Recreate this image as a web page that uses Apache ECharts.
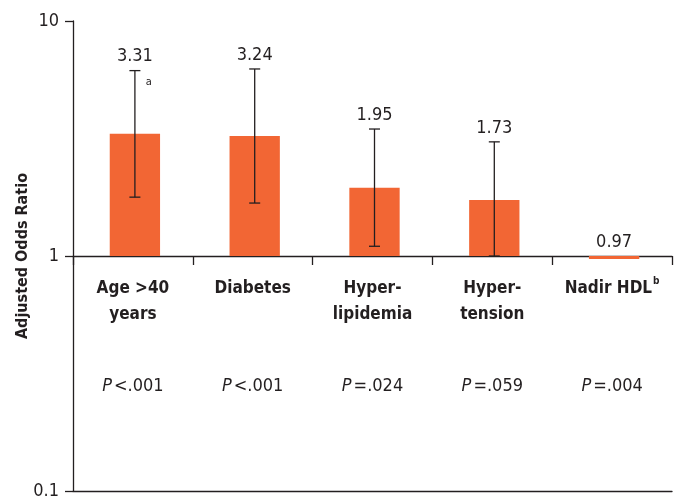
<!DOCTYPE html>
<html>
<head>
<meta charset="utf-8">
<script src="https://cdn.jsdelivr.net/npm/echarts@6/dist/echarts.min.js"></script>
<style>
  html, body { margin: 0; padding: 0; background: #fff; }
  #chart { width: 680px; height: 500px; }
</style>
</head>
<body>
<div id="chart"></div>
<script>
// Adjusted odds ratios with 95% confidence intervals
const categories = ['Age >40\nyears', 'Diabetes', 'Hyper-\nlipidemia', 'Hyper-\ntension', 'Nadir HDL{sup|b}'];
const oddsRatios = [3.31, 3.24, 1.95, 1.73, 0.97];
const ciLower = [1.78, 1.68, 1.10, 1.00, null];
const ciUpper = [6.15, 6.25, 3.47, 3.06, null];
const pValues = ['<.001', '<.001', '=.024', '=.059', '=.004'];
const notes = ['a', '', '', '', ''];
const yTicks = ['0.1', '1', '10'];

const FONT = '"Liberation Sans Narrow", "DejaVu Sans Condensed", "Liberation Sans", sans-serif';
const INK = '#231f20';
const BAR = '#f26634';

const chart = echarts.init(document.getElementById('chart'), null, { renderer: 'canvas' });

function renderItem(params, api) {
  const i = params.dataIndex;
  const value = api.value(1);
  const base = api.coord([api.value(0), 1]);
  const top = api.coord([api.value(0), value]);
  const bandW = api.size([1, 0])[0];
  const barW = bandW * 0.42;
  const cx = base[0] + 2;
  const children = [{
    type: 'rect',
    shape: { x: cx - barW / 2, y: Math.min(base[1], top[1]), width: barW, height: Math.abs(base[1] - top[1]) },
    style: { fill: BAR }
  }];
  let labelTop = base[1];
  if (ciLower[i] != null && ciUpper[i] != null) {
    const lo = api.coord([api.value(0), ciLower[i]]);
    const hi = api.coord([api.value(0), ciUpper[i]]);
    const cap = 5.5;
    const ls = { stroke: INK, lineWidth: 1.3 };
    children.push(
      { type: 'line', shape: { x1: cx, y1: lo[1], x2: cx, y2: hi[1] }, style: ls },
      { type: 'line', shape: { x1: cx - cap, y1: hi[1], x2: cx + cap, y2: hi[1] }, style: ls },
      { type: 'line', shape: { x1: cx - cap, y1: lo[1], x2: cx + cap, y2: lo[1] }, style: ls }
    );
    labelTop = Math.min(labelTop, hi[1]);
    if (notes[i]) {
      children.push({
        type: 'text',
        style: { text: notes[i], x: cx + 14, y: hi[1] + 12, align: 'center', verticalAlign: 'middle',
                 font: '11px ' + FONT, fill: INK }
      });
    }
  }
  children.push({
    type: 'text',
    style: { text: String(value), x: cx, y: labelTop - 5, align: 'center', verticalAlign: 'bottom',
             font: '18px ' + FONT, fill: INK }
  });
  children.push({
    type: 'text',
    style: {
      text: '{it|P}' + pValues[i], x: base[0], y: base[1] + 130, align: 'center', verticalAlign: 'middle',
      font: '18px ' + FONT, fill: INK,
      rich: { it: { fontStyle: 'italic', font: 'italic 18px ' + FONT, fill: INK, padding: [0, 2, 0, 0] } }
    }
  });
  return { type: 'group', children };
}

chart.setOption({
  animation: false,
  grid: { left: 73, right: 8, top: 21, bottom: 9, containLabel: false },
  xAxis: [
    {
      type: 'category', data: categories,
      axisLine: { show: true, lineStyle: { color: INK, width: 1.3 } },
      axisTick: { show: false }, axisLabel: { show: false }, splitLine: { show: false }
    },
    {
      type: 'category', data: categories, position: 'bottom', offset: -235,
      axisLine: { show: true, lineStyle: { color: INK, width: 1.3 } },
      axisTick: { show: true, length: 9, inside: false, lineStyle: { color: INK, width: 1.3 } },
      axisLabel: {
        show: true, interval: 0, margin: 20, color: INK, fontFamily: FONT, fontSize: 17,
        fontWeight: 'bold', lineHeight: 26,
        rich: { sup: { fontSize: 10, fontWeight: 'bold', fontFamily: FONT, color: INK,
                       verticalAlign: 'top', lineHeight: 26, padding: [0, 0, 10, 1] } }
      },
      splitLine: { show: false }
    }
  ],
  yAxis: {
    type: 'log', logBase: 10, min: 0.1, max: 10,
    name: 'Adjusted Odds Ratio', nameLocation: 'middle', nameRotate: 90, nameGap: 42,
    nameMoveOverlap: false,
    nameTextStyle: { color: INK, fontFamily: FONT, fontSize: 16, fontWeight: 'bold' },
    axisLine: { show: true, lineStyle: { color: INK, width: 1.3 } },
    axisTick: { show: true, length: 8, lineStyle: { color: INK, width: 1.3 } },
    axisLabel: {
      color: INK, fontFamily: FONT, fontSize: 18, margin: 14,
      formatter: (v) => yTicks.find((t) => Math.abs(parseFloat(t) - v) < 1e-9) || ''
    },
    splitLine: { show: false }
  },
  series: [{
    type: 'custom',
    xAxisIndex: 0,
    renderItem,
    data: oddsRatios.map((v, i) => [i, v]),
    z: 3
  }]
});
</script>
</body>
</html>
